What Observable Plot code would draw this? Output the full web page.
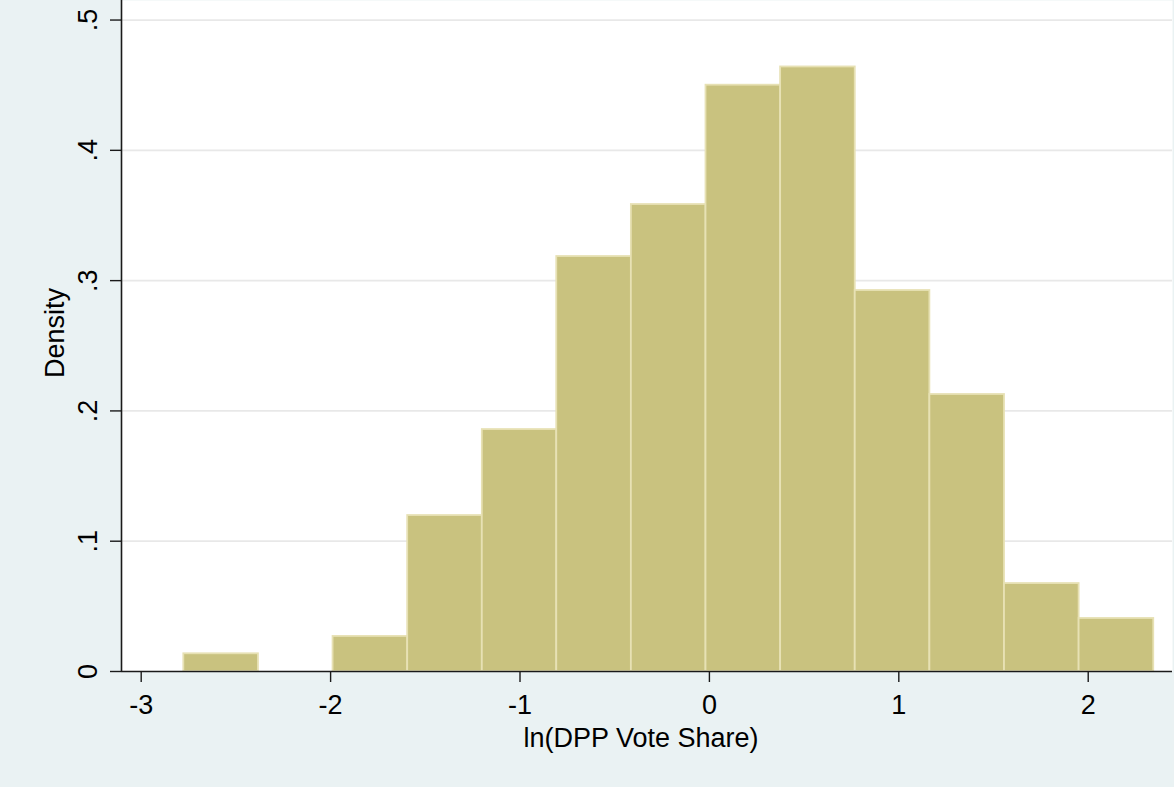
<!DOCTYPE html>
<html><head><meta charset="utf-8">
<script src="https://cdn.jsdelivr.net/npm/d3@7"></script>
<script src="https://cdn.jsdelivr.net/npm/@observablehq/plot@0.6"></script>
<style>
html,body{margin:0;padding:0;background:#EAF2F3;}
#chart svg{display:block;}
</style>
</head><body><div id="chart"></div>
<script>
// Histogram bins (lower/upper edges) and densities
const binEdges = [-2.775, -2.381, -1.987, -1.593, -1.199, -0.806, -0.412, -0.018, 0.376, 0.770, 1.164, 1.558, 1.952, 2.346];
const density  = [0.0136, 0, 0.0269, 0.1197, 0.1857, 0.3185, 0.3584, 0.450, 0.464, 0.2924, 0.2126, 0.0675, 0.0407];
const xTicks = [-3, -2, -1, 0, 1, 2];
const xTickLabels = ["-3", "-2", "-1", "0", "1", "2"];
const yTicks = [0, 0.1, 0.2, 0.3, 0.4, 0.5];
const yTickLabels = ["0", ".1", ".2", ".3", ".4", ".5"];
const xTitle = "ln(DPP Vote Share)";
const yTitle = "Density";
const xDomain = [-3.104, 2.445];
const yDomain = [0, 0.515];

const bins = density
  .map((d, i) => ({x1: binEdges[i], x2: binEdges[i + 1], density: d}))
  .filter(d => d.density > 0);

const font = "'Liberation Sans', Arial, Helvetica, sans-serif";
const fs = 27;

const chart = Plot.plot({
  width: 1174,
  height: 787,
  marginLeft: 121,
  marginRight: 2,
  marginTop: 0,
  marginBottom: 116,
  style: {background: "#EAF2F3", fontFamily: font, fontSize: fs + "px", color: "#000"},
  x: {domain: xDomain, label: null},
  y: {domain: yDomain, label: null},
  marks: [
    Plot.frame({fill: "#ffffff", stroke: null}),
    Plot.ruleY(yTicks.filter(d => d > 0), {stroke: "#e8e8e8", strokeWidth: 1.8}),
    Plot.rectY(bins, {x1: "x1", x2: "x2", y: "density", fill: "#C9C27F", stroke: "#E7E1B4", strokeWidth: 1.8}),
    Plot.ruleY([0], {stroke: "#1a1a1a", strokeWidth: 1.6}),
    Plot.ruleX([xDomain[0]], {stroke: "#1a1a1a", strokeWidth: 1.6}),
    Plot.axisX({
      ticks: xTicks,
      tickFormat: d => xTickLabels[xTicks.indexOf(d)],
      tickSize: 11, tickPadding: 12, fontSize: fs, stroke: "#1a1a1a", strokeWidth: 1.4,
      fill: "#000", label: null
    }),
    Plot.axisY({
      ticks: yTicks, tickFormat: () => "",
      tickSize: 11, stroke: "#1a1a1a", strokeWidth: 1.4, label: null
    }),
    Plot.text(yTicks, {
      y: d => d, text: (d, i) => yTickLabels[i],
      frameAnchor: "left", dx: -25, rotate: -90,
      textAnchor: "middle", lineAnchor: "bottom", fontSize: fs, fill: "#000"
    }),
    Plot.text([yTitle], {
      text: d => d, frameAnchor: "left", dx: -58, dy: -3, rotate: -90,
      textAnchor: "middle", lineAnchor: "bottom", fontSize: fs, fill: "#000"
    }),
    Plot.text([xTitle], {
      text: d => d, frameAnchor: "bottom", dx: -6, dy: 56,
      textAnchor: "middle", lineAnchor: "top", fontSize: fs, fill: "#000"
    })
  ]
});
document.getElementById("chart").append(chart);
</script>
</body></html>
